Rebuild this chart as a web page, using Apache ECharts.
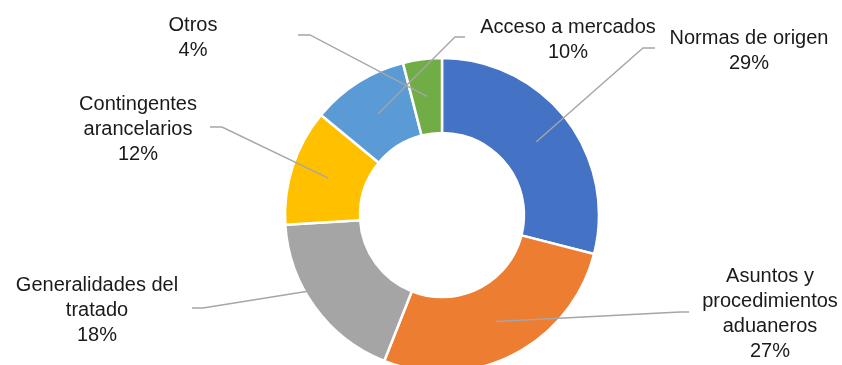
<!DOCTYPE html>
<html>
<head>
<meta charset="utf-8">
<style>
  html, body { margin: 0; padding: 0; background: #ffffff; }
  #chart { width: 842px; height: 365px; }
</style>
<script src="https://cdn.jsdelivr.net/npm/echarts@6/dist/echarts.min.js"></script>
</head>
<body>
<div id="chart"></div>
<script>
// Temas tratados (participación %)
const categories = [
  'Normas de origen',
  'Asuntos y\nprocedimientos\naduaneros',
  'Generalidades del\ntratado',
  'Contingentes\narancelarios',
  'Acceso a mercados',
  'Otros'
];
const shares = [29, 27, 18, 12, 10, 4];
const colors = ['#4472C4', '#ED7D31', '#A5A5A5', '#FFC000', '#5B9BD5', '#70AD47'];

// Donut geometry
const CX = 442, CY = 215, R_IN = 82, R_OUT = 157;

// Label placement: text centre and leader-line elbow/end for each slice
const labelBoxes = [
  { x: 749, y: 51,  elbow: [643, 48],  end: [655, 48] },
  { x: 770, y: 314, elbow: [680, 312], end: [689, 312] },
  { x: 97,  y: 310, elbow: [203, 308], end: [192, 308] },
  { x: 138, y: 129, elbow: [222, 127], end: [210, 127] },
  { x: 568, y: 40,  elbow: [455, 37],  end: [465, 37] },
  { x: 193, y: 38,  elbow: [310, 35],  end: [298, 35] }
];

// Leader anchor: middle of the ring at each slice's mid angle
const total = shares.reduce((a, b) => a + b, 0);
function anchorOf(i) {
  let before = 0;
  for (let k = 0; k < i; k++) before += shares[k];
  const frac = (before + shares[i] / 2) / total;
  const ang = frac * Math.PI * 2; // clockwise from 12 o'clock
  const rm = (R_IN + R_OUT) / 2;
  return [CX + rm * Math.sin(ang), CY - rm * Math.cos(ang)];
}

const pieBase = {
  type: 'pie',
  center: [CX, CY],
  radius: [R_IN, R_OUT],
  startAngle: 90,
  clockwise: true,
  avoidLabelOverlap: false,
  emphasis: { disabled: true }
};

const chart = echarts.init(document.getElementById('chart'), null, { renderer: 'canvas' });
chart.setOption({
  animation: false,
  backgroundColor: '#ffffff',
  series: [
    // Coloured ring
    Object.assign({}, pieBase, {
      z: 2,
      silent: true,
      itemStyle: { borderColor: '#ffffff', borderWidth: 2.5 },
      label: { show: false },
      labelLine: { show: false },
      data: categories.map((name, i) => ({
        name: name,
        value: shares[i],
        itemStyle: { color: colors[i] }
      }))
    }),
    // Same ring, invisible, carrying labels and leader lines on top
    Object.assign({}, pieBase, {
      z: 5,
      silent: true,
      itemStyle: { color: 'rgba(0,0,0,0)', borderWidth: 0 },
      label: {
        show: true,
        position: 'outside',
        formatter: p => p.name + '\n' + p.value + '%',
        fontFamily: 'Liberation Sans, Arial, sans-serif',
        fontSize: 20,
        lineHeight: 25,
        color: '#1a1a1a',
        align: 'center'
      },
      labelLine: {
        show: true,
        lineStyle: { color: '#a6a6a6', width: 1.4 }
      },
      labelLayout: function (params) {
        const i = params.dataIndex;
        const b = labelBoxes[i];
        return {
          x: b.x,
          y: b.y,
          align: 'center',
          verticalAlign: 'middle',
          labelLinePoints: [anchorOf(i), b.elbow, b.end]
        };
      },
      data: categories.map((name, i) => ({ name: name, value: shares[i] }))
    })
  ]
});
</script>
</body>
</html>
